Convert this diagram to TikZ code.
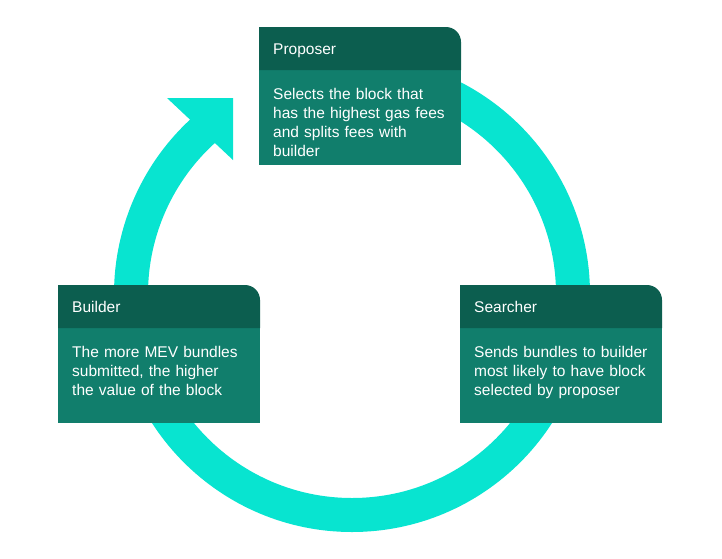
\documentclass[tikz,border=0pt]{standalone}
\usepackage{fontspec}
\setmainfont{Liberation Sans}
\usetikzlibrary{calc,positioning}
\definecolor{ringcol}{RGB}{8,228,208}
\definecolor{headcol}{RGB}{12,94,79}
\definecolor{bodycol}{RGB}{17,126,108}

\begin{document}
\begin{tikzpicture}[x=1pt,y=1pt,
    ring/.style={draw=ringcol,line width=34pt},
    title/.style={anchor=base west,inner sep=0pt,text=white,font=\fontsize{15.5}{19}\selectfont},
    blurb/.style={title,text width=186pt,align=left}]
  \useasboundingbox (0,0) rectangle (722,-558);
  \coordinate (ctr) at (352,-294);
  % ring, open end hidden under the proposer card
  \draw[ring] ($(ctr)+(90:221)$) arc[start angle=90,end angle=-228,radius=221];
  \fill[ringcol] (167,-98) -- (233,-98) -- (233,-160) -- cycle;
  % cards: left/top corner, name, title, text
  \foreach \xx/\yy/\nm/\ttl/\txt in {259/27/prop/Proposer/{Selects the block that\\has the highest gas fees\\and splits fees with\\builder},
      460/285/search/Searcher/{Sends bundles to builder\\most likely to have block\\selected by proposer},
      58/285/build/Builder/{The more MEV bundles\\submitted, the higher\\the value of the block}} {
    \fill[bodycol] (\xx,-\yy-43) rectangle (\xx+202,-\yy-138);
    \fill[headcol] (\xx,-\yy-43) -- (\xx,-\yy) -- (\xx+187,-\yy) arc[start angle=90,end angle=0,radius=15] -- (\xx+202,-\yy-43) -- cycle;
    \node[title] (\nm-title) at (\xx+14,-\yy-27) {\ttl};
    \node[blurb] (\nm-text) at (\xx+14,-\yy-72) {\txt};
  }
\end{tikzpicture}
\end{document}
